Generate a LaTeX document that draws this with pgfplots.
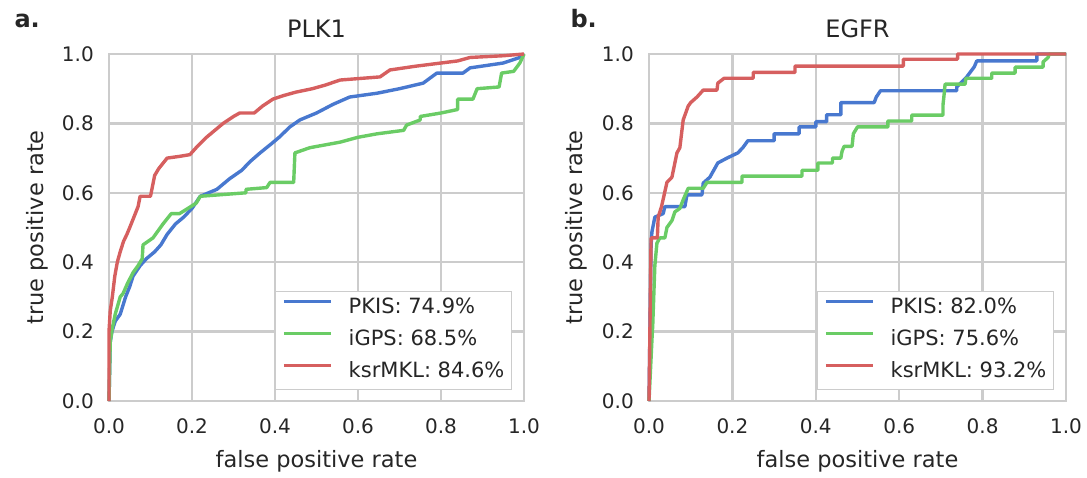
\documentclass[border=0pt]{standalone}
\usepackage{fontspec}
\setmainfont{DejaVu Sans}
\usepackage{pgfplots}
\pgfplotsset{compat=1.18}
\definecolor{cblue}{RGB}{72,120,207}
\definecolor{cgreen}{RGB}{106,204,101}
\definecolor{cred}{RGB}{214,95,95}
\definecolor{gridgray}{RGB}{204,204,204}
\definecolor{txt}{RGB}{38,38,38}
\pgfplotsset{
 rocstyle/.style={
  scale only axis, height=347pt,
  xmin=0,xmax=1,ymin=0,ymax=1,
  xtick={0,0.2,0.4,0.6,0.8,1}, ytick={0,0.2,0.4,0.6,0.8,1},
  xticklabels={0.0,0.2,0.4,0.6,0.8,1.0},
  yticklabels={0.0,0.2,0.4,0.6,0.8,1.0},
  grid=major, major grid style={line width=2.3pt, color=gridgray},
  axis line style={line width=2.6pt, color=gridgray},
  major tick length=0pt,
  tick label style={font=\fontsize{20}{24}\selectfont, text=txt},
  xticklabel style={inner sep=0pt, anchor=north, yshift=-17pt},
  yticklabel style={inner sep=0pt, anchor=east, xshift=-15pt},
  xlabel style={font=\fontsize{22.5}{26}\selectfont, text=txt, at={(axis description cs:0.5,-0.193)}, anchor=base},
  ylabel style={font=\fontsize{22.5}{26}\selectfont, text=txt, at={(axis description cs:-0.159,0.5)}, anchor=base},
  title style={font=\fontsize{24}{28}\selectfont, text=txt, at={(axis description cs:0.5,1)}, anchor=base, yshift=10pt},
  xlabel={false positive rate}, ylabel={true positive rate},
  clip=false,
  legend cell align=left,
  legend style={at={(axis description cs:0.971,0.032)}, anchor=south east,
    draw=gridgray, line width=1pt, fill=white, inner sep=7pt,
    font=\fontsize{21}{25}\selectfont, text=txt, row sep=12pt, column sep=16pt,
    nodes={inner sep=0pt, text height=15pt, text depth=5pt}},
  legend image code/.code={\draw[#1] (0pt,7pt) -- (47pt,7pt);},
  every axis plot/.append style={line width=3.4pt, line join=round},
 }
}
\begin{document}
\begin{tikzpicture}
\path[use as bounding box] (0,0) rectangle (1087pt,477pt);
\node[anchor=base west, font=\fontsize{24}{28}\selectfont\bfseries, text=txt] at (11pt,449pt) {a.};
\node[anchor=base west, font=\fontsize{24}{28}\selectfont\bfseries, text=txt] at (567pt,449pt) {b.};
\begin{axis}[rocstyle, at={(109pt,76pt)}, anchor=south west, width=415pt, title={PLK1}]
\addplot[cblue] coordinates {(0,0)(0.003,0.17)(0.007,0.20)(0.015,0.23)(0.027,0.25)(0.04,0.30)(0.05,0.33)(0.058,0.36)(0.075,0.39)(0.09,0.41)(0.11,0.43)(0.125,0.45)(0.14,0.48)(0.16,0.51)(0.18,0.53)(0.2,0.555)(0.22,0.59)(0.26,0.61)(0.29,0.64)(0.32,0.665)(0.34,0.69)(0.364,0.715)(0.39,0.74)(0.41,0.76)(0.436,0.79)(0.46,0.81)(0.50,0.83)(0.54,0.855)(0.58,0.876)(0.646,0.887)(0.70,0.90)(0.757,0.916)(0.79,0.945)(0.853,0.945)(0.87,0.96)(0.95,0.974)(0.99,0.99)(1,1)};
\addlegendentry{PKIS: 74.9\%}
\addplot[cgreen] coordinates {(0,0)(0.003,0.17)(0.008,0.21)(0.015,0.25)(0.027,0.30)(0.034,0.31)(0.045,0.34)(0.058,0.37)(0.07,0.39)(0.08,0.41)(0.082,0.45)(0.106,0.47)(0.13,0.51)(0.15,0.54)(0.17,0.54)(0.19,0.555)(0.21,0.57)(0.22,0.59)(0.33,0.60)(0.33,0.61)(0.38,0.615)(0.388,0.63)(0.445,0.63)(0.448,0.715)(0.46,0.72)(0.484,0.73)(0.557,0.746)(0.6,0.76)(0.646,0.77)(0.71,0.78)(0.717,0.795)(0.75,0.81)(0.75,0.82)(0.80,0.83)(0.84,0.84)(0.84,0.87)(0.877,0.87)(0.887,0.90)(0.94,0.905)(0.946,0.945)(0.975,0.95)(0.99,0.974)(1,1)};
\addlegendentry{iGPS: 68.5\%}
\addplot[cred] coordinates {(0,0)(0,0.2)(0.003,0.26)(0.008,0.30)(0.014,0.36)(0.02,0.40)(0.027,0.43)(0.035,0.46)(0.043,0.48)(0.05,0.50)(0.06,0.53)(0.07,0.56)(0.075,0.59)(0.10,0.59)(0.105,0.62)(0.11,0.65)(0.12,0.67)(0.14,0.70)(0.17,0.705)(0.195,0.71)(0.21,0.73)(0.235,0.76)(0.255,0.78)(0.275,0.80)(0.30,0.82)(0.315,0.83)(0.35,0.83)(0.37,0.85)(0.395,0.87)(0.42,0.88)(0.45,0.89)(0.49,0.90)(0.52,0.91)(0.557,0.925)(0.653,0.934)(0.677,0.954)(0.74,0.965)(0.80,0.974)(0.84,0.98)(0.87,0.99)(0.95,0.995)(1,1)};
\addlegendentry{ksrMKL: 84.6\%}
\end{axis}
\begin{axis}[rocstyle, at={(649pt,76pt)}, anchor=south west, width=417pt, title={EGFR}]
\addplot[cblue] coordinates {(0,0)(0.005,0.45)(0.007,0.487)(0.014,0.53)(0.034,0.54)(0.038,0.56)(0.086,0.56)(0.091,0.594)(0.127,0.594)(0.13,0.628)(0.146,0.645)(0.165,0.686)(0.187,0.70)(0.213,0.715)(0.225,0.73)(0.237,0.75)(0.30,0.75)(0.30,0.77)(0.36,0.77)(0.36,0.79)(0.40,0.79)(0.40,0.805)(0.426,0.805)(0.426,0.825)(0.46,0.825)(0.46,0.86)(0.54,0.86)(0.545,0.876)(0.555,0.894)(0.738,0.894)(0.738,0.905)(0.762,0.934)(0.77,0.947)(0.78,0.963)(0.786,0.98)(0.93,0.98)(0.93,1)(1,1)};
\addlegendentry{PKIS: 82.0\%}
\addplot[cgreen] coordinates {(0,0)(0.007,0.175)(0.009,0.22)(0.014,0.39)(0.019,0.455)(0.026,0.47)(0.038,0.47)(0.043,0.50)(0.055,0.52)(0.062,0.545)(0.074,0.555)(0.082,0.58)(0.094,0.613)(0.13,0.613)(0.139,0.63)(0.223,0.63)(0.223,0.648)(0.367,0.648)(0.367,0.665)(0.405,0.665)(0.405,0.686)(0.44,0.686)(0.44,0.70)(0.46,0.70)(0.463,0.72)(0.468,0.734)(0.487,0.734)(0.49,0.77)(0.50,0.79)(0.573,0.79)(0.573,0.807)(0.63,0.807)(0.63,0.824)(0.705,0.824)(0.705,0.853)(0.708,0.887)(0.71,0.913)(0.758,0.913)(0.76,0.93)(0.822,0.93)(0.822,0.945)(0.878,0.945)(0.878,0.962)(0.945,0.962)(0.945,0.977)(0.957,0.99)(0.96,1)(1,1)};
\addlegendentry{iGPS: 75.6\%}
\addplot[cred] coordinates {(0,0)(0.005,0.47)(0.02,0.47)(0.022,0.53)(0.03,0.56)(0.043,0.63)(0.055,0.645)(0.067,0.715)(0.074,0.73)(0.082,0.81)(0.094,0.85)(0.10,0.86)(0.115,0.876)(0.13,0.896)(0.163,0.896)(0.165,0.916)(0.18,0.93)(0.25,0.93)(0.25,0.947)(0.35,0.947)(0.35,0.965)(0.61,0.965)(0.61,0.985)(0.74,0.985)(0.74,1)(1,1)};
\addlegendentry{ksrMKL: 93.2\%}
\end{axis}
\end{tikzpicture}
\end{document}
